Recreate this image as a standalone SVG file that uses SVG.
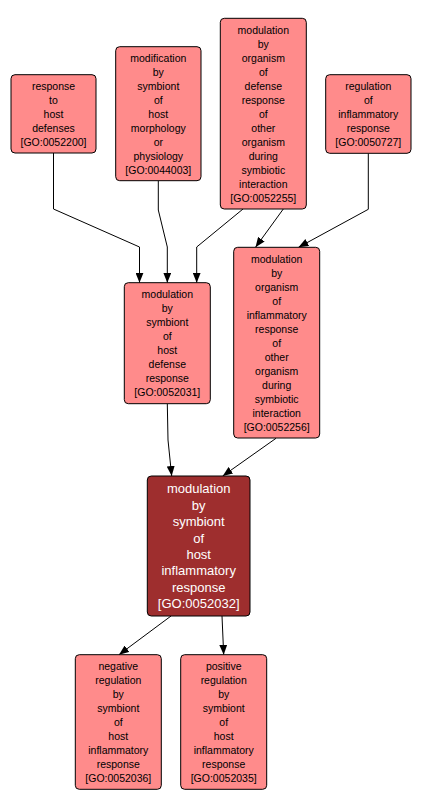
<svg xmlns="http://www.w3.org/2000/svg" width="421" height="808" viewBox="0 0 421 808">
<defs>
<style>
.n rect{fill:#ff8b8b;stroke:#000;stroke-width:1}
.n text{font-family:"Liberation Sans",Arial,sans-serif;font-size:10.5px;fill:#000;text-anchor:middle}
.d rect{fill:#9e2e2e;stroke:#000;stroke-width:1}
.d text{font-family:"Liberation Sans",Arial,sans-serif;font-size:13px;fill:#fff;text-anchor:middle}
.e path{fill:none;stroke:#000;stroke-width:1;marker-end:url(#ah)}
</style>
<marker id="ah" markerWidth="10" markerHeight="8" refX="10" refY="4" orient="auto" markerUnits="userSpaceOnUse">
<path d="M0,0 L10,4 L0,8 Z" fill="#000"/>
</marker>
</defs>
<rect width="421" height="808" fill="#fff"/>
<g class="e" id="edges">
<path d="M53.5,153 L53.5,209 L139.5,247 L139.5,282.7"/>
<path d="M158.3,180.7 L158.3,210 L167.3,247 L167.3,282.7"/>
<path d="M243,209 L196.7,247 L196.7,282.7"/>
<path d="M283.3,209 L255.5,247.3"/>
<path d="M368.3,153.3 L368.3,209.3 L298.5,247.3"/>
<path d="M167.3,403.7 L168,440 L171.7,476"/>
<path d="M276,438.3 L222.7,476"/>
<path d="M171,616 L119,654.7"/>
<path d="M222,616 L223.7,654.7"/>
</g>
<g class="n" id="GO_0052200">
<rect x="11" y="74.7" width="85" height="78.3" rx="4"/>
<text x="53.5" y="89.6">response</text>
<text x="53.5" y="103.6">to</text>
<text x="53.5" y="117.6">host</text>
<text x="53.5" y="131.6">defenses</text>
<text x="53.5" y="145.6">[GO:0052200]</text>
</g>
<g class="n" id="GO_0044003">
<rect x="115.7" y="46.7" width="85.3" height="134" rx="4"/>
<text x="158.3" y="61.5">modification</text>
<text x="158.3" y="75.5">by</text>
<text x="158.3" y="89.5">symbiont</text>
<text x="158.3" y="103.5">of</text>
<text x="158.3" y="117.5">host</text>
<text x="158.3" y="131.5">morphology</text>
<text x="158.3" y="145.5">or</text>
<text x="158.3" y="159.5">physiology</text>
<text x="158.3" y="173.5">[GO:0044003]</text>
</g>
<g class="n" id="GO_0052255">
<rect x="220.3" y="18.3" width="86" height="190.7" rx="4"/>
<text x="263.3" y="33.5">modulation</text>
<text x="263.3" y="47.5">by</text>
<text x="263.3" y="61.5">organism</text>
<text x="263.3" y="75.5">of</text>
<text x="263.3" y="89.5">defense</text>
<text x="263.3" y="103.5">response</text>
<text x="263.3" y="117.5">of</text>
<text x="263.3" y="131.5">other</text>
<text x="263.3" y="145.5">organism</text>
<text x="263.3" y="159.5">during</text>
<text x="263.3" y="173.5">symbiotic</text>
<text x="263.3" y="187.5">interaction</text>
<text x="263.3" y="201.5">[GO:0052255]</text>
</g>
<g class="n" id="GO_0050727">
<rect x="325.7" y="74.7" width="85.3" height="78.6" rx="4"/>
<text x="368.3" y="89.8">regulation</text>
<text x="368.3" y="103.8">of</text>
<text x="368.3" y="117.8">inflammatory</text>
<text x="368.3" y="131.8">response</text>
<text x="368.3" y="145.8">[GO:0050727]</text>
</g>
<g class="n" id="GO_0052031">
<rect x="124.3" y="282.7" width="86" height="121" rx="4"/>
<text x="167.3" y="298">modulation</text>
<text x="167.3" y="312">by</text>
<text x="167.3" y="326">symbiont</text>
<text x="167.3" y="340">of</text>
<text x="167.3" y="354">host</text>
<text x="167.3" y="368">defense</text>
<text x="167.3" y="382">response</text>
<text x="167.3" y="396">[GO:0052031]</text>
</g>
<g class="n" id="GO_0052256">
<rect x="233.7" y="247.3" width="86" height="190.7" rx="4"/>
<text x="276.7" y="262.5">modulation</text>
<text x="276.7" y="276.5">by</text>
<text x="276.7" y="290.5">organism</text>
<text x="276.7" y="304.5">of</text>
<text x="276.7" y="318.5">inflammatory</text>
<text x="276.7" y="332.5">response</text>
<text x="276.7" y="346.5">of</text>
<text x="276.7" y="360.5">other</text>
<text x="276.7" y="374.5">organism</text>
<text x="276.7" y="388.5">during</text>
<text x="276.7" y="402.5">symbiotic</text>
<text x="276.7" y="416.5">interaction</text>
<text x="276.7" y="430.5">[GO:0052256]</text>
</g>
<g class="d" id="GO_0052032">
<rect x="147.3" y="476" width="102.7" height="140" rx="4"/>
<text x="198.7" y="493.3">modulation</text>
<text x="198.7" y="509.7">by</text>
<text x="198.7" y="526.1">symbiont</text>
<text x="198.7" y="542.5">of</text>
<text x="198.7" y="558.9">host</text>
<text x="198.7" y="575.3">inflammatory</text>
<text x="198.7" y="591.7">response</text>
<text x="198.7" y="608.1">[GO:0052032]</text>
</g>
<g class="n" id="GO_0052036">
<rect x="75.3" y="654.7" width="86" height="134.6" rx="4"/>
<text x="118.3" y="669.8">negative</text>
<text x="118.3" y="683.8">regulation</text>
<text x="118.3" y="697.8">by</text>
<text x="118.3" y="711.8">symbiont</text>
<text x="118.3" y="725.8">of</text>
<text x="118.3" y="739.8">host</text>
<text x="118.3" y="753.8">inflammatory</text>
<text x="118.3" y="767.8">response</text>
<text x="118.3" y="781.8">[GO:0052036]</text>
</g>
<g class="n" id="GO_0052035">
<rect x="180.7" y="654.7" width="86" height="134.6" rx="4"/>
<text x="223.7" y="669.8">positive</text>
<text x="223.7" y="683.8">regulation</text>
<text x="223.7" y="697.8">by</text>
<text x="223.7" y="711.8">symbiont</text>
<text x="223.7" y="725.8">of</text>
<text x="223.7" y="739.8">host</text>
<text x="223.7" y="753.8">inflammatory</text>
<text x="223.7" y="767.8">response</text>
<text x="223.7" y="781.8">[GO:0052035]</text>
</g>
</svg>
